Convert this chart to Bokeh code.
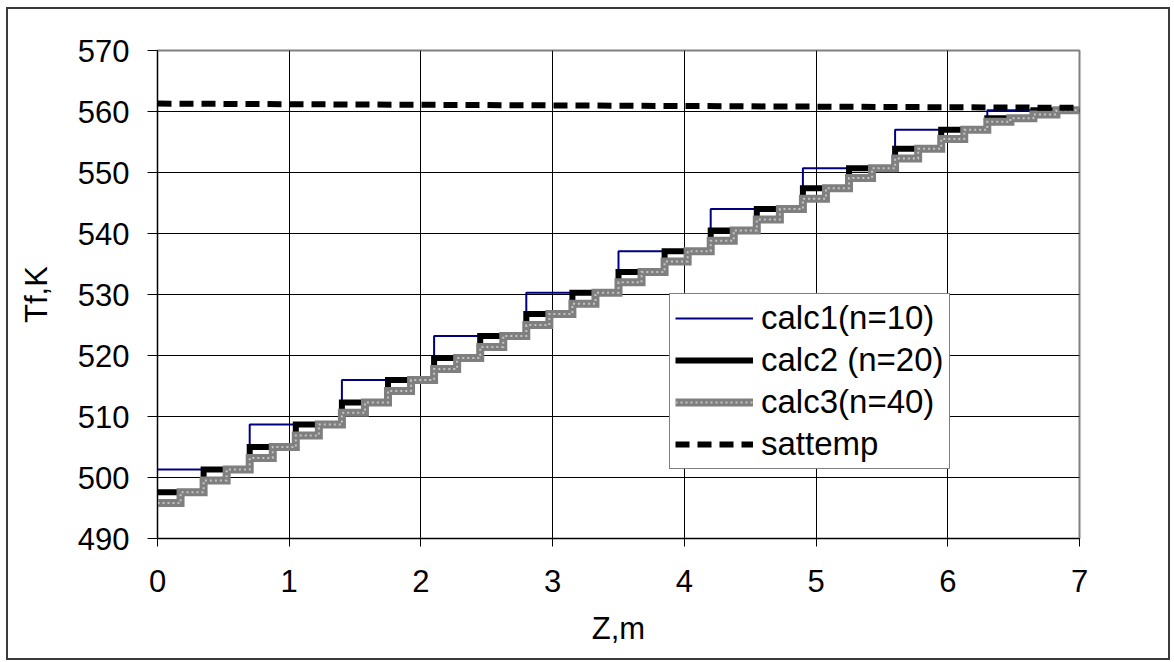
import numpy as np
from bokeh.plotting import figure
from bokeh.models import Legend, LegendItem, FixedTicker, Range1d
from bokeh.embed import file_html
from bokeh.resources import INLINE

# ---- data ----
z_start, z_end = 0.0, 7.0
calc1_n10 = [501.3, 508.7, 516.0, 523.2, 530.3, 537.1, 544.0, 550.7, 557.0, 560.2]
calc2_n20 = [497.6, 501.3, 505.0, 508.7, 512.3, 516.0, 519.6, 523.2, 526.8, 530.3,
             533.7, 537.1, 540.5, 544.0, 547.4, 550.7, 553.9, 557.0, 558.9, 560.2]
calc3_n40 = [495.8, 497.6, 499.5, 501.3, 503.2, 505.0, 506.9, 508.7, 510.6, 512.3,
             514.2, 516.0, 517.8, 519.6, 521.4, 523.2, 525.0, 526.8, 528.5, 530.3,
             532.0, 533.7, 535.4, 537.1, 538.8, 540.5, 542.3, 544.0, 545.7, 547.4,
             549.1, 550.7, 552.3, 553.9, 555.5, 557.0, 558.3, 558.9, 559.5, 560.2]
sattemp_z = [0.0, 7.0]
sattemp_T = [561.3, 560.6]
x_ticks = [0, 1, 2, 3, 4, 5, 6, 7]
y_ticks = [490, 500, 510, 520, 530, 540, 550, 560, 570]
labels = ["calc1(n=10)", "calc2 (n=20)", "calc3(n=40)", "sattemp"]

FONT = "Liberation Sans"
FS = "31px"
LFS = "33px"


def step_xy(vals):
    n = len(vals)
    edges = list(np.linspace(z_start, z_end, n + 1))
    return edges, list(vals) + [vals[-1]]


p = figure(width=1164, height=653, x_range=Range1d(0, 7), y_range=Range1d(490, 570),
           output_backend="svg", toolbar_location=None,
           min_border_left=149, min_border_right=93, min_border_top=41, min_border_bottom=124)
p.styles = {"border": "2px solid #3a3a3a", "margin-left": "6px", "margin-top": "7px"}

p.background_fill_color = "white"
p.border_fill_color = "white"
p.outline_line_color = "#808080"
p.outline_line_width = 2

for ax in (p.xaxis[0], p.yaxis[0]):
    ax.axis_line_color = "black"
    ax.axis_line_width = 1
    ax.major_tick_line_color = "black"
    ax.major_tick_in = 0
    ax.minor_tick_line_color = None
    ax.major_label_text_font = FONT
    ax.major_label_text_font_size = FS
    ax.major_label_text_color = "black"
    ax.axis_label_text_font = FONT
    ax.axis_label_text_font_size = FS
    ax.axis_label_text_font_style = "normal"
    ax.axis_label_text_color = "black"

p.xaxis.ticker = FixedTicker(ticks=x_ticks)
p.yaxis.ticker = FixedTicker(ticks=y_ticks)
p.xaxis.major_tick_out = 8
p.yaxis.major_tick_out = 10
p.xaxis.major_label_standoff = 23
p.yaxis.major_label_standoff = 18
p.xaxis.axis_label = "Z,m"
p.yaxis.axis_label = "Tf,K"
p.xaxis.axis_label_standoff = 16
p.yaxis.axis_label_standoff = 21

p.xgrid.ticker = FixedTicker(ticks=x_ticks)
p.ygrid.ticker = FixedTicker(ticks=y_ticks)
p.xgrid.grid_line_color = "black"
p.ygrid.grid_line_color = "black"
p.xgrid.grid_line_width = 1
p.ygrid.grid_line_width = 1

x1, y1 = step_xy(calc1_n10)
x2, y2 = step_xy(calc2_n20)
x3, y3 = step_xy(calc3_n40)

r1 = p.step(x1, y1, mode="after", line_color="#000080", line_width=2)
r2 = p.step(x2, y2, mode="after", line_color="black", line_width=6,
            line_join="miter", line_cap="butt")
r3a = p.step(x3, y3, mode="after", line_color="#7f7f7f", line_width=8,
             line_join="miter", line_cap="butt")
r3b = p.step(x3, y3, mode="after", line_color="#c4c4c4", line_width=2,
             line_dash="2 3", line_join="miter", line_cap="butt")
r4 = p.line(sattemp_z, sattemp_T, line_color="black", line_width=6,
            line_dash="14 8", line_cap="butt")

legend = Legend(items=[
    LegendItem(label=labels[0], renderers=[r1]),
    LegendItem(label=labels[1], renderers=[r2]),
    LegendItem(label=labels[2], renderers=[r3a, r3b]),
    LegendItem(label=labels[3], renderers=[r4]),
], location=(512, 69))
legend.label_text_font = FONT
legend.label_text_font_size = LFS
legend.label_text_color = "black"
legend.glyph_width = 78
legend.glyph_height = 36
legend.label_height = 36
legend.label_standoff = 8
legend.spacing = 4
legend.padding = 5
legend.margin = 0
legend.border_line_color = "black"
legend.border_line_width = 1.5
legend.background_fill_color = "white"
legend.background_fill_alpha = 1
p.add_layout(legend, "center")

open("out.html", "w").write(file_html(p, INLINE))
